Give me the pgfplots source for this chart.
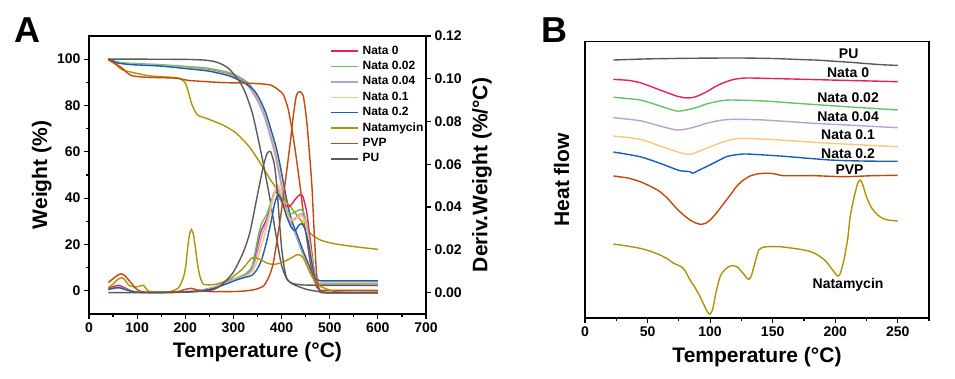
\documentclass[border=0pt]{standalone}
\usepackage{fontspec}
\setmainfont{Liberation Sans}
\usepackage{pgfplots}
\pgfplotsset{compat=1.18}
\definecolor{cNa}{RGB}{233,30,99}
\definecolor{cNb}{RGB}{100,195,105}
\definecolor{cNc}{RGB}{185,160,215}
\definecolor{cNd}{RGB}{255,196,125}
\definecolor{cNe}{RGB}{25,95,180}
\definecolor{cNat}{RGB}{175,148,0}
\definecolor{cPVP}{RGB}{195,72,12}
\definecolor{cPU}{RGB}{90,90,90}
\newcommand{\labfont}{\fontsize{21}{24}\selectfont\bfseries}
\pgfplotsset{
  base/.style={scale only axis, anchor=south west,
    axis line style={line width=1.6pt, black},
    tick style={black, line width=1.2pt},
    major tick length=5pt, minor tick length=3pt, tick align=outside,
    tick label style={font=\fontsize{14}{16}\selectfont\bfseries},
    /pgf/number format/assume math mode=true,
    every axis plot/.append style={line width=1.4pt, no markers, smooth, tension=0.4}},
}
\begin{document}
\begin{tikzpicture}
\path[use as bounding box] (0,0) rectangle (955pt,378pt);
% ---------------- Panel A: TGA (left axis) ----------------
\begin{axis}[base, at={(89pt,64pt)}, width=337pt, height=278pt,
  xmin=0, xmax=700, ymin=-10, ymax=110,
  xtick={0,100,...,700}, minor xtick={50,150,...,650},
  ytick={0,20,...,100}, minor ytick={10,30,...,90},
  xtick pos=left, ytick pos=left,
  xlabel={Temperature (°C)}, ylabel={Weight (\%)},
  every axis x label/.style={at={(axis description cs:0.5,-0.137)}, anchor=center, font=\labfont},
  every axis y label/.style={at={(axis description cs:-0.14,0.5)}, anchor=center, rotate=90, font=\labfont},
  legend style={at={(axis description cs:0.715,0.968)}, anchor=north west, draw=none, fill=none,
    font=\fontsize{12}{14}\selectfont\bfseries, inner sep=0pt, row sep=3.4pt,
    nodes={inner sep=0pt, text height=9pt, text depth=3pt},
    /tikz/every odd column/.append style={column sep=4pt}},
  legend image code/.code={\draw[#1, line width=1.5pt] (0pt,0pt) -- (27pt,0pt);},
  legend cell align=left]
\addplot[cNa] coordinates {(40,100)(50,99.3)(60,98.5)(80,98)(100,97.8)(150,97.3)(208,96.3)(250,95.4)(291,93.5)(315,91.3)(332,89)(342,86)(352,82.5)(363,77.5)(373,71)(387,61)(397,51)(407,40)(418,31)(430,25)(445,17)(456,11)(463,7)(470,4.5)(478,3.5)(490,3.3)(600,3.3)};
\addlegendentry{Nata 0}
\addplot[cNb] coordinates {(40,100)(50,99.4)(60,98.8)(80,98.3)(100,98.1)(150,97.6)(208,96.8)(250,96)(291,94.2)(315,92)(332,89.5)(342,86.5)(352,82.5)(363,77.5)(373,71)(387,61)(397,51)(407,40)(417,31)(427,25.5)(442,17)(452,12)(460,8)(467,5.5)(475,3.5)(490,3.0)(600,3.0)};
\addlegendentry{Nata 0.02}
\addplot[cNc] coordinates {(40,100)(50,99.3)(60,98.5)(80,98)(100,97.7)(150,97.2)(208,96.2)(250,95.2)(291,93.3)(315,91)(330,88.5)(340,85.5)(350,82)(361,77)(371,70.5)(385,60)(395,50)(405,39.5)(415,31)(428,25)(443,17)(453,11.5)(461,7.5)(468,5)(476,3.2)(490,2.8)(600,2.8)};
\addlegendentry{Nata 0.04}
\addplot[cNd] coordinates {(40,100)(50,99.3)(60,98.4)(80,97.9)(100,97.6)(150,97.1)(208,96)(250,95)(291,93)(315,90.8)(332,88.6)(343,86)(353,82.5)(364,77.5)(374,71)(388,61)(398,51)(408,40)(418,31)(429,25.5)(444,17)(454,11.5)(462,7.5)(469,5)(477,3.8)(490,3.6)(600,3.6)};
\addlegendentry{Nata 0.1}
\addplot[cNe] coordinates {(40,100)(50,99.2)(60,98.3)(80,97.8)(100,97.5)(150,97)(208,95.8)(250,94.8)(291,92.8)(315,90.6)(332,88.5)(345,86)(355,82.5)(366,77.5)(376,71)(390,61)(400,51)(410,40)(420,31)(430,25.5)(445,17)(455,12)(463,8)(470,5.5)(478,4.5)(490,4.3)(600,4.3)};
\addlegendentry{Nata 0.2}
\addplot[cNat] coordinates {(40,100)(55,97.8)(69,95.4)(90,94.3)(125,92.8)(160,92.3)(187,91.8)(200,89.7)(207,85.4)(214,80.3)(225,76)(242,74.6)(277,71.7)(305,68.2)(332,62.4)(353,56)(380,47)(410,38.5)(438,31)(459,25)(480,22)(508,20.4)(550,19.1)(600,17.9)};
\addlegendentry{Natamycin}
\addplot[cPVP] coordinates {(40,99.7)(55,98)(69,96.1)(80,94)(90,92.8)(118,92.2)(180,91.8)(208,90.8)(277,89.9)(334,89.6)(376,88.9)(395,86.5)(404,84.6)(414,78.2)(424,66.7)(431,56.7)(438,46)(445,34)(452,23)(459,13)(466,6)(472,2)(478,0.5)(490,0.2)(600,0.2)};
\addlegendentry{PVP}
\addplot[cPU] coordinates {(40,100)(100,100)(200,99.9)(240,99.6)(260,99)(276,97.8)(290,96)(305,92.5)(315,89.5)(325,85.4)(339,77)(350,67)(362,55)(376,39.5)(390,22.2)(400,11)(410,5.5)(420,3.4)(440,2.6)(480,2.4)(600,2.3)};
\addlegendentry{PU}
\end{axis}
% ---------------- Panel A: DTG (right axis) ----------------
\begin{axis}[base, at={(89pt,64pt)}, width=337pt, height=278pt,
  xmin=0, xmax=700, ymin=-0.01, ymax=0.12,
  axis x line=none, axis y line*=right,
  ytick={0,0.02,0.04,0.06,0.08,0.1,0.12},
  yticklabel style={/pgf/number format/.cd, fixed, fixed zerofill, precision=2},
  scaled y ticks=false,
  ylabel={Deriv.Weight (\%/°C)},
  every axis y label/.style={at={(axis description cs:1.166,0.5)}, anchor=center, rotate=90, font=\labfont}]
\addplot[cNa] coordinates {(40,0.0019)(50,0.0028)(62,0.0034)(75,0.0022)(90,0.0007)(110,0.0001)(150,0)(200,0.0004)(230,0.001)(260,0.0025)(290,0.0052)(310,0.0068)(325,0.0082)(338,0.011)(348,0.02)(356,0.028)(362,0.031)(370,0.035)(378,0.041)(386,0.0473)(392,0.046)(400,0.0425)(410,0.0404)(418,0.0405)(428,0.0435)(438,0.0458)(444,0.045)(452,0.038)(460,0.024)(468,0.010)(475,0.003)(482,0.0003)(490,0)(600,0)};
\addplot[cNb] coordinates {(40,0.0015)(50,0.0022)(62,0.0026)(75,0.0018)(90,0.0006)(110,0.0001)(150,0)(200,0.0004)(230,0.001)(260,0.0025)(290,0.0055)(310,0.0072)(325,0.0088)(338,0.012)(346,0.02)(354,0.029)(360,0.033)(368,0.036)(376,0.041)(384,0.0465)(388,0.0475)(394,0.046)(402,0.041)(412,0.0375)(422,0.037)(432,0.0382)(440,0.0388)(446,0.0375)(454,0.030)(462,0.018)(470,0.007)(478,0.0015)(488,0)(600,0)};
\addplot[cNc] coordinates {(40,0.0015)(50,0.002)(62,0.0024)(75,0.0016)(90,0.0005)(110,0.0001)(150,0)(200,0.0004)(230,0.001)(260,0.0025)(290,0.0052)(310,0.0068)(325,0.008)(338,0.0105)(348,0.017)(358,0.026)(366,0.031)(374,0.037)(382,0.044)(390,0.049)(396,0.047)(404,0.041)(414,0.0355)(423,0.034)(432,0.0355)(441,0.037)(448,0.034)(455,0.026)(462,0.016)(470,0.0065)(478,0.0012)(488,0)(600,0)};
\addplot[cNd] coordinates {(40,0.0012)(50,0.0018)(62,0.0021)(75,0.0014)(90,0.0005)(110,0.0001)(150,0)(200,0.0003)(230,0.0009)(260,0.0022)(290,0.0048)(310,0.0064)(325,0.0076)(338,0.0095)(348,0.014)(358,0.022)(366,0.028)(374,0.035)(382,0.044)(391,0.0505)(397,0.048)(405,0.041)(414,0.0355)(424,0.0335)(433,0.035)(442,0.036)(449,0.033)(456,0.025)(463,0.015)(470,0.006)(478,0.0012)(488,0)(600,0)};
\addplot[cNe] coordinates {(40,0.0015)(50,0.002)(62,0.0023)(75,0.0015)(90,0.0005)(110,0.0001)(150,0)(200,0.0003)(230,0.0008)(260,0.002)(290,0.0045)(310,0.0062)(325,0.0072)(338,0.008)(348,0.0105)(358,0.015)(368,0.023)(378,0.033)(386,0.042)(393,0.0458)(400,0.0435)(410,0.036)(420,0.0305)(428,0.029)(436,0.0315)(442,0.0322)(448,0.030)(455,0.024)(462,0.015)(470,0.006)(478,0.0012)(490,0)(600,0)};
\addplot[cNat] coordinates {(40,0.0023)(50,0.004)(60,0.0062)(69,0.007)(76,0.0055)(83,0.0034)(95,0.0026)(105,0.003)(113,0.0034)(121,0.0012)(130,0.0003)(166,0.0003)(186,0.0023)(196,0.007)(201,0.0124)(205,0.021)(209,0.0275)(213,0.0295)(217,0.027)(221,0.021)(225,0.014)(230,0.008)(238,0.0039)(263,0.0039)(291,0.0062)(318,0.0109)(339,0.0163)(355,0.0155)(370,0.0138)(383,0.0132)(400,0.014)(420,0.0162)(434,0.0178)(445,0.0163)(459,0.0093)(470,0.005)(480,0.003)(508,0.0006)(540,0.0001)(600,0)};
\addplot[cPVP] coordinates {(40,0.0047)(50,0.0065)(60,0.0082)(67,0.0088)(75,0.0078)(87,0.0047)(97,0.002)(106,0.0007)(120,0.0002)(180,0.0004)(200,0.0015)(213,0.002)(225,0.0012)(250,0.0005)(300,0.0005)(325,0.0008)(345,0.0015)(362,0.003)(373,0.007)(383,0.014)(397,0.034)(405,0.047)(411,0.0575)(418,0.07)(424,0.082)(431,0.0924)(438,0.094)(445,0.092)(452,0.0808)(458,0.065)(463,0.050)(468,0.027)(473,0.008)(478,0.0015)(485,0.0003)(500,0)(600,0)};
\addplot[cPU] coordinates {(40,0)(100,0)(200,0.0002)(250,0.001)(272,0.003)(299,0.0093)(320,0.0186)(334,0.028)(348,0.0435)(362,0.059)(370,0.065)(377,0.066)(385,0.060)(390,0.050)(395,0.035)(400,0.021)(406,0.011)(412,0.006)(424,0.0039)(452,0.0015)(480,0.0004)(500,0)(600,0)};
\end{axis}
% ---------------- Panel B: DSC ----------------
\begin{axis}[base, at={(585pt,60.3pt)}, width=344pt, height=276pt,
  xmin=0, xmax=275, ymin=0, ymax=276,
  xtick={0,50,...,250}, minor xtick={25,75,...,275}, xtick pos=left,
  ytick=\empty,
  xlabel={Temperature (°C)}, ylabel={Heat flow},
  every axis x label/.style={at={(axis description cs:0.5,-0.141)}, anchor=center, font=\labfont},
  every axis y label/.style={at={(axis description cs:-0.068,0.5)}, anchor=center, rotate=90, font=\labfont}]
\addplot[cPU] coordinates {(22.7,257.7)(50,258.8)(76,259.3)(100,259.6)(124,259.7)(150,259.2)(169,258.3)(185,257.6)(196,256.7)(210,255.6)(223,254.3)(237,253)(250,252.3)};
\addplot[cNa] coordinates {(22.7,238.3)(35,237.3)(44,235)(52,231.5)(60,227.7)(67,224.5)(73,221.7)(81,219.7)(87,220.5)(92,222.7)(98,226.5)(105,231.7)(112,235.5)(119,238.3)(129,239.7)(156,239)(196,237.7)(225,236.8)(250,236)};
\addplot[cNb] coordinates {(22.7,220.4)(44,217.7)(60,211.7)(73,206.7)(81,207.7)(90,210.5)(97,213.7)(106,216.3)(116,217.7)(143,216.7)(169,214.4)(209,211)(250,207.7)};
\addplot[cNc] coordinates {(22.7,200)(44,197)(60,191.7)(73,187.7)(81,188.7)(90,191.5)(97,194.4)(108,197.3)(119,198.4)(143,197.7)(183,194.4)(220,192)(250,190)};
\addplot[cNd] coordinates {(22.7,181.7)(44,178.4)(60,171.7)(76,165)(84,163.4)(90,165.8)(97,169.4)(104,172.8)(111,176)(118,178.3)(127,179.4)(156,177.7)(196,174.4)(250,171)};
\addplot[cNe] coordinates {(22.7,165.7)(44,161)(60,154.4)(70,149.6)(76,147)(84,146)(86,144.4)(90,146.8)(97,151)(105,156)(113,161)(120,162.8)(129,163.7)(156,161.7)(196,157.7)(225,156.6)(250,156.4)};
\addplot[cPVP] coordinates {(22.7,141.7)(35,139.5)(44,136)(52,131.6)(60,126)(67,118)(73,109.4)(79,102.5)(84,97.7)(88,95)(92,93.4)(96,94.2)(100,97.7)(105,104.5)(111,114.4)(116,122.5)(121,131)(126,137)(132,141.7)(138,143.8)(145,144.5)(151,144)(159,142)(183,142)(207,141)(230,142)(250,142.4)};
\addplot[cNat] coordinates {(22.7,73.7)(33,71.8)(44,69.4)(52,66.6)(60,62.7)(66,58.8)(71,54.4)(77,51)(80,47)(84,37.7)(88,30)(92,21)(95,13)(97,7.7)(99,4)(100,3.7)(102,8)(104,21)(106,32)(108,41)(110,45.5)(113,49.4)(116,51.6)(119,52)(122,50.5)(124,47.7)(127,43.5)(129,40)(131,38.4)(133,42)(135,51)(137,60)(139,67.7)(142,70.3)(146,71)(156,71)(172,68.4)(180,66.2)(186,62.7)(192,57.2)(196,51)(199,46)(202,41.7)(204,44)(207,57.7)(210,79)(212,101)(215,120)(218,134.4)(220,137.7)(222,133)(225,121)(229,110)(234,102.7)(238,99.3)(242,97.7)(250,96.7)};
\begin{scope}[every node/.style={font=\fontsize{14}{16}\selectfont\bfseries}]
\node at (axis cs:210.8,264.4) {PU};
\node at (axis cs:210.3,245.4) {Nata 0};
\node at (axis cs:210.3,220) {Nata 0.02};
\node at (axis cs:210.3,201) {Nata 0.04};
\node at (axis cs:210.3,182.7) {Nata 0.1};
\node at (axis cs:210.3,164.4) {Nata 0.2};
\node at (axis cs:211.5,147.7) {PVP};
\node at (axis cs:210.3,32.7) {Natamycin};
\end{scope}
\end{axis}
\node[font=\fontsize{36}{40}\selectfont\bfseries] at (27.5pt,348pt) {A};
\node[font=\fontsize{36}{40}\selectfont\bfseries] at (554pt,347.5pt) {B};
\end{tikzpicture}
\end{document}
